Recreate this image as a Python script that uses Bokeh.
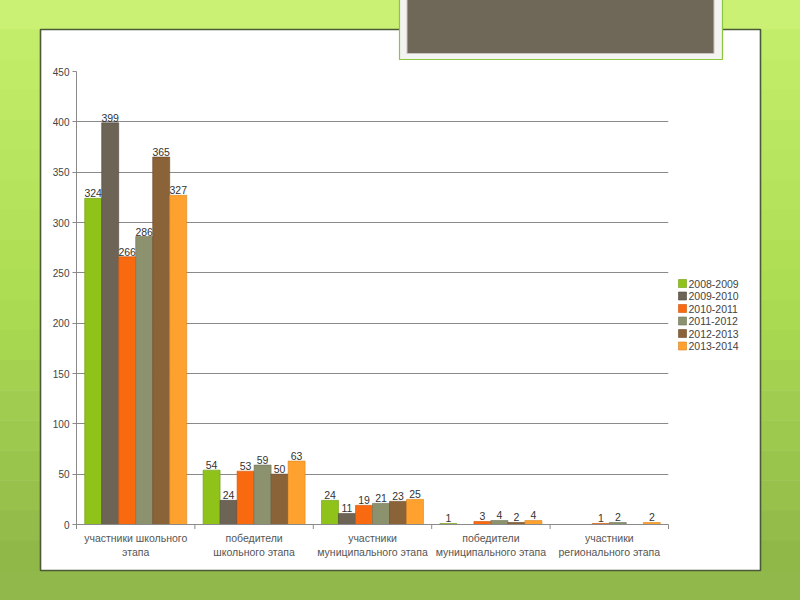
import math
from bokeh.plotting import figure
from bokeh.models import ColumnDataSource, Range1d, FactorRange
from bokeh.transform import dodge
from bokeh.core.properties import value
from bokeh.embed import file_html
from bokeh.resources import INLINE

NAN = float("nan")

# ---------------- data ----------------
categories = [
    "участники школьного этапа",
    "победители школьного этапа",
    "участники муниципального этапа",
    "победители муниципального этапа",
    "участники регионального этапа",
]
label_line1 = ["участники школьного", "победители", "участники", "победители", "участники"]
label_line2 = ["этапа", "школьного этапа", "муниципального этапа", "муниципального этапа", "регионального этапа"]
series = ["2008-2009", "2009-2010", "2010-2011", "2011-2012", "2012-2013", "2013-2014"]
v_2008_2009 = [324, 54, 24, 1, NAN]
v_2009_2010 = [399, 24, 11, NAN, NAN]
v_2010_2011 = [266, 53, 19, 3, 1]
v_2011_2012 = [286, 59, 21, 4, 2]
v_2012_2013 = [365, 50, 23, 2, NAN]
v_2013_2014 = [327, 63, 25, 4, 2]
y_ticks = [0, 50, 100, 150, 200, 250, 300, 350, 400, 450]

values = [v_2008_2009, v_2009_2010, v_2010_2011, v_2011_2012, v_2012_2013, v_2013_2014]
colors = ["#8FC31A", "#6D6455", "#F9690F", "#8D926E", "#8B6339", "#FFA12E"]
edge_colors = ["#6E9A10", "#4E473C", "#C9520A", "#6D7255", "#6B4A29", "#D98520"]

FONT = "Liberation Sans"

# ---------------- figure ----------------
W, H = 800, 600
FX0, FX1, FY0, FY1 = 76, 668, 71, 524   # plot frame in page pixels
p = figure(
    width=W, height=H,
    x_range=FactorRange(*categories, range_padding=0, factor_padding=0),
    y_range=Range1d(0, 450),
    output_backend="svg", toolbar_location=None,
    min_border_left=FX0, min_border_right=W - FX1,
    min_border_top=FY0, min_border_bottom=H - FY1,
    background_fill_color="white", border_fill_color="white",
)
p.outline_line_color = None

# ---------------- axes ----------------
p.yaxis.ticker = y_ticks
p.yaxis.axis_line_color = "#8A8A8A"
p.yaxis.major_tick_line_color = "#8A8A8A"
p.yaxis.major_tick_out = 4
p.yaxis.major_tick_in = 0
p.yaxis.minor_tick_line_color = None
p.yaxis.major_label_text_font = FONT
p.yaxis.major_label_text_font_size = "10px"
p.yaxis.major_label_text_color = "#444444"
p.yaxis.major_label_standoff = 3

p.xaxis.visible = False

p.xgrid.grid_line_color = None
p.ygrid.grid_line_color = "#8A8A8A"
p.ygrid.grid_line_width = 1
p.ygrid.ticker = y_ticks

# ---------------- bars ----------------
n = len(series)
bar_w = 0.1436
for k, (name, vals) in enumerate(zip(series, values)):
    off = (k - (n - 1) / 2) * bar_w
    keep = [i for i, v in enumerate(vals) if not (isinstance(v, float) and math.isnan(v))]
    src = ColumnDataSource(dict(
        cat=[categories[i] for i in keep],
        top=[vals[i] for i in keep],
        lab=[str(vals[i]) for i in keep],
    ))
    p.vbar(x=dodge("cat", off, range=p.x_range), top="top", bottom=0, width=bar_w,
           source=src, fill_color=colors[k], line_color=edge_colors[k], line_width=0.6)
    p.text(x=dodge("cat", off, range=p.x_range), y="top", text="lab", source=src,
           text_align="center", text_baseline="bottom", y_offset=-1,
           text_font=value(FONT), text_font_size="10.5px", text_color="#333333")

# category axis: line, boundary ticks and two-line labels
NCAT = len(categories)
p.segment(x0=[0], x1=[NCAT], y0=[0], y1=[0], line_color="#8A8A8A", line_width=1, level="annotation")
nb = list(range(NCAT + 1))
p.segment(x0=nb, x1=nb, y0=[0] * len(nb), y1=[-4.5] * len(nb),
          line_color="#8A8A8A", line_width=1, level="annotation")
lab_src = ColumnDataSource(dict(cat=categories, l1=label_line1, l2=label_line2, y=[0] * NCAT))
for col, dy in (("l1", 13.5), ("l2", 27)):
    p.text(x="cat", y="y", text=col, source=lab_src, y_offset=dy, text_align="center",
           text_baseline="middle", text_font=value(FONT), text_font_size="10.5px",
           text_color="#555555", level="annotation")

# ---------------- page-pixel helpers for things outside the plot frame ----------------
def sx(px):
    return (px - FX0) / (FX1 - FX0) * NCAT
def sy(py):
    return (FY1 - py) / (FY1 - FY0) * 450

# ---------------- legend (right of the plot area) ----------------
LEG_X, LEG_Y, LEG_STEP, SQ = 678, 283, 12.5, 8
leg_y = [LEG_Y + i * LEG_STEP for i in range(len(series))]
p.quad(left=[sx(LEG_X)] * n, right=[sx(LEG_X + SQ)] * n,
       top=[sy(y - SQ / 2) for y in leg_y], bottom=[sy(y + SQ / 2) for y in leg_y],
       fill_color=colors, line_color=edge_colors, line_width=0.6, level="annotation")
p.text(x=[sx(LEG_X + SQ + 2)] * n, y=[sy(y) for y in leg_y], text=series,
       text_align="left", text_baseline="middle", text_font=value(FONT),
       text_font_size="10.5px", text_color="#444444", level="annotation")

# ---------------- slide decoration ----------------
def lerp(c0, c1, t):
    return "#%02x%02x%02x" % tuple(int(round(a + (b - a) * t)) for a, b in zip(c0, c1))

top_c = (198, 240, 110)
mid_c = (172, 220, 82)
bot_c = (139, 178, 72)

def grad(y):
    if y < 300:
        return lerp(top_c, mid_c, y / 300)
    return lerp(mid_c, bot_c, (y - 300) / 300)

rects = []  # (left, right, top, bottom, color) in page px
rects.append((-10, 810, -10, 29.5, lerp(top_c, (205, 242, 120), 0.5)))
rects.append((-10, 810, 570.5, 610, lerp(mid_c, bot_c, 0.85)))
nbands = 18
for i in range(nbands):
    y0 = 29 + (570 - 29) * i / nbands
    y1 = 29 + (570 - 29) * (i + 1) / nbands + 0.5
    c = grad((y0 + y1) / 2)
    rects.append((-10, 39.5, y0, y1, c))
    rects.append((760.5, 810, y0, y1, c))

p.quad(left=[sx(r[0]) for r in rects], right=[sx(r[1]) for r in rects],
       top=[sy(r[2]) for r in rects], bottom=[sy(r[3]) for r in rects],
       fill_color=[r[4] for r in rects], line_color=None, level="annotation")

# panel outline
p.quad(left=[sx(40)], right=[sx(760)], top=[sy(29)], bottom=[sy(570)], fill_color=None,
       line_color="#4B5A36", line_width=1.6, level="annotation")

# title box at top
p.quad(left=[sx(399)], right=[sx(722)], top=[sy(-5)], bottom=[sy(59)], fill_color="#F3F3F1",
       line_color="#8CC63F", line_width=1.2, level="annotation")
p.quad(left=[sx(406.5)], right=[sx(713.5)], top=[sy(-5)], bottom=[sy(53)], fill_color="#6F6758",
       line_color="#C9C4BC", line_width=1, level="annotation")

open("out.html", "w").write(file_html(p, INLINE))
